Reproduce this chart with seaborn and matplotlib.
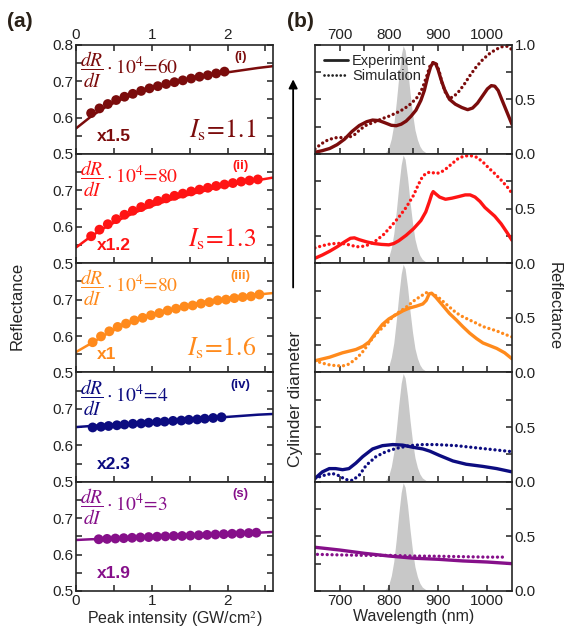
import matplotlib
matplotlib.use("Agg")
import matplotlib.pyplot as plt
from matplotlib.lines import Line2D
import seaborn as sns

# ---------------- data: panel (a) ----------------
colors = ["#7b0c0c", "#ff1414", "#ff8a1c", "#0c0c80", "#86108a"]
tags = ["(i)", "(ii)", "(iii)", "(iv)", "(s)"]
scales = ["x1.5", "x1.2", "x1", "x2.3", "x1.9"]
slopes = ["60", "80", "80", "4", "3"]
sat_int = ["1.1", "1.3", "1.6", None, None]

fit_x = [0, 0.2, 0.4, 0.6, 0.8, 1.0, 1.2, 1.4, 1.6, 1.8, 2.0, 2.2, 2.4, 2.6]
fit_i = [0.570, 0.603, 0.630, 0.650, 0.666, 0.680, 0.692, 0.702, 0.710, 0.717, 0.724, 0.730, 0.736, 0.741]
fit_ii = [0.543, 0.574, 0.600, 0.622, 0.641, 0.657, 0.671, 0.683, 0.694, 0.704, 0.713, 0.721, 0.728, 0.735]
fit_iii = [0.556, 0.580, 0.605, 0.627, 0.644, 0.658, 0.670, 0.681, 0.690, 0.698, 0.704, 0.709, 0.714, 0.718]
fit_iv = [0.650, 0.653, 0.656, 0.659, 0.662, 0.664, 0.667, 0.670, 0.672, 0.675, 0.678, 0.681, 0.684, 0.686]
fit_s = [0.640, 0.642, 0.643, 0.645, 0.647, 0.648, 0.650, 0.652, 0.653, 0.655, 0.657, 0.658, 0.660, 0.662]

dots_x_i = [0.2, 0.31, 0.42, 0.53, 0.64, 0.75, 0.86, 0.97, 1.08, 1.19, 1.3, 1.41, 1.52, 1.63, 1.74, 1.85, 1.96]
dots_i = [0.612, 0.625, 0.637, 0.648, 0.657, 0.665, 0.673, 0.680, 0.686, 0.692, 0.697, 0.702, 0.707, 0.712, 0.716, 0.721, 0.726]
dots_x_ii = [0.2, 0.31, 0.42, 0.53, 0.64, 0.75, 0.86, 0.97, 1.08, 1.19, 1.3, 1.41, 1.52, 1.63, 1.74, 1.85,
             1.96, 2.07, 2.18, 2.29, 2.4]
dots_ii = [0.574, 0.592, 0.607, 0.621, 0.633, 0.644, 0.654, 0.663, 0.671, 0.678, 0.685, 0.691, 0.697, 0.702,
           0.707, 0.712, 0.716, 0.720, 0.724, 0.727, 0.730]
dots_x_iii = [0.22, 0.33, 0.44, 0.55, 0.66, 0.77, 0.88, 0.99, 1.1, 1.21, 1.32, 1.43, 1.54, 1.65, 1.76, 1.87,
              1.98, 2.09, 2.2, 2.31, 2.42]
dots_iii = [0.583, 0.599, 0.613, 0.625, 0.634, 0.643, 0.650, 0.657, 0.663, 0.670, 0.675, 0.681, 0.684, 0.689,
            0.693, 0.698, 0.700, 0.704, 0.707, 0.709, 0.714]
dots_x_iv = [0.22, 0.33, 0.43, 0.54, 0.64, 0.75, 0.86, 0.96, 1.07, 1.17, 1.28, 1.39, 1.49, 1.6, 1.7, 1.81, 1.92]
dots_iv = [0.649, 0.651, 0.653, 0.655, 0.657, 0.659, 0.660, 0.662, 0.664, 0.665, 0.667, 0.668, 0.670, 0.671,
           0.673, 0.675, 0.677]
dots_x_s = [0.3, 0.41, 0.52, 0.63, 0.74, 0.85, 0.96, 1.07, 1.18, 1.29, 1.4, 1.51, 1.62, 1.73, 1.84, 1.95,
            2.06, 2.17, 2.28, 2.38]
dots_s = [0.642, 0.643, 0.644, 0.645, 0.646, 0.647, 0.648, 0.649, 0.650, 0.651, 0.651, 0.652, 0.653, 0.654,
          0.655, 0.656, 0.657, 0.658, 0.659, 0.660]

fits = [fit_i, fit_ii, fit_iii, fit_iv, fit_s]
dots_x = [dots_x_i, dots_x_ii, dots_x_iii, dots_x_iv, dots_x_s]
dots_y = [dots_i, dots_ii, dots_iii, dots_iv, dots_s]

# ---------------- data: panel (b) ----------------
pulse_wl = [780, 790, 795, 800, 805, 810, 815, 820, 825, 829, 833, 838, 843, 848, 853, 858, 863, 868, 875, 885]
pulse_val = [0.0, 0.005, 0.02, 0.06, 0.14, 0.27, 0.47, 0.70, 0.90, 0.99, 0.95, 0.78, 0.56, 0.37, 0.22, 0.13,
             0.07, 0.035, 0.012, 0.0]

exp1_wl = [650, 665, 680, 695, 710, 725, 740, 755, 767, 780, 792, 805, 815, 825, 835, 845, 855, 865, 872, 879,
           885, 890, 895, 900, 906, 913, 923, 935, 948, 960, 970, 980, 990, 1000, 1008, 1015, 1022, 1030, 1040, 1050]
exp1 = [0.015, 0.03, 0.05, 0.085, 0.135, 0.205, 0.26, 0.295, 0.31, 0.305, 0.285, 0.262, 0.258, 0.272, 0.30,
        0.345, 0.40, 0.49, 0.58, 0.71, 0.80, 0.835, 0.825, 0.77, 0.68, 0.59, 0.50, 0.455, 0.425, 0.405, 0.42,
        0.465, 0.53, 0.595, 0.625, 0.62, 0.58, 0.49, 0.38, 0.27]
sim1_wl = [650, 662, 675, 690, 705, 718, 730, 742, 755, 770, 785, 800, 815, 830, 845, 858, 868, 876, 883, 890,
           896, 902, 908, 915, 922, 930, 940, 952, 965, 978, 990, 1002, 1015, 1028, 1040, 1050]
sim1 = [0.045, 0.09, 0.125, 0.148, 0.150, 0.150, 0.175, 0.225, 0.265, 0.29, 0.32, 0.345, 0.375, 0.41, 0.46,
        0.52, 0.60, 0.70, 0.80, 0.84, 0.83, 0.76, 0.65, 0.56, 0.51, 0.52, 0.56, 0.63, 0.72, 0.80, 0.86, 0.91,
        0.95, 0.98, 0.985, 0.955]

exp2_wl = [650, 665, 680, 695, 710, 722, 730, 740, 755, 770, 785, 800, 810, 820, 835, 850, 865, 875, 882, 887,
           890, 895, 903, 915, 928, 942, 955, 965, 975, 985, 995, 1005, 1015, 1028, 1040, 1050]
exp2 = [0.045, 0.075, 0.11, 0.15, 0.195, 0.228, 0.232, 0.215, 0.195, 0.18, 0.172, 0.168, 0.18, 0.205, 0.255,
        0.315, 0.39, 0.47, 0.56, 0.63, 0.655, 0.635, 0.605, 0.585, 0.595, 0.61, 0.625, 0.625, 0.605, 0.565,
        0.51, 0.47, 0.43, 0.36, 0.28, 0.21]
sim2_wl = [650, 665, 680, 695, 710, 722, 735, 748, 760, 775, 790, 805, 820, 835, 850, 860, 868, 876, 885, 895,
           905, 915, 928, 940, 952, 965, 978, 990, 1003, 1015, 1028, 1040, 1050]
sim2 = [0.14, 0.16, 0.175, 0.182, 0.178, 0.165, 0.15, 0.155, 0.17, 0.21, 0.265, 0.34, 0.42, 0.51, 0.62, 0.72,
        0.79, 0.825, 0.835, 0.82, 0.83, 0.86, 0.91, 0.955, 0.98, 0.985, 0.97, 0.93, 0.87, 0.82, 0.76, 0.70, 0.64]

exp3_wl = [650, 680, 706, 733, 748, 760, 773, 787, 800, 815, 829, 842, 856, 869, 876, 882, 887, 895, 910, 923,
           937, 950, 964, 978, 991, 1005, 1019, 1035, 1050]
exp3 = [0.107, 0.14, 0.18, 0.21, 0.24, 0.28, 0.36, 0.44, 0.49, 0.53, 0.565, 0.59, 0.607, 0.627, 0.66, 0.72,
        0.725, 0.69, 0.61, 0.54, 0.48, 0.42, 0.36, 0.31, 0.27, 0.245, 0.22, 0.18, 0.125]
sim3_wl = [650, 665, 679, 692, 706, 716, 726, 737, 747, 757, 767, 777, 787, 798, 808, 818, 828, 839, 849, 862,
           876, 889, 900, 910, 924, 937, 950, 964, 978, 991, 1005, 1019, 1035, 1050]
sim3 = [0.107, 0.085, 0.07, 0.062, 0.06, 0.07, 0.10, 0.14, 0.19, 0.25, 0.315, 0.365, 0.41, 0.46, 0.51, 0.545,
        0.575, 0.61, 0.65, 0.69, 0.73, 0.72, 0.69, 0.65, 0.595, 0.545, 0.51, 0.48, 0.45, 0.42, 0.40, 0.38,
        0.35, 0.325]

exp4_wl = [650, 665, 679, 692, 706, 719, 733, 747, 767, 787, 808, 828, 849, 869, 883, 903, 930, 957, 991, 1019, 1050]
exp4 = [0.03, 0.09, 0.12, 0.12, 0.11, 0.12, 0.17, 0.23, 0.30, 0.33, 0.34, 0.335, 0.315, 0.30, 0.28, 0.24, 0.19,
        0.16, 0.14, 0.12, 0.09]
sim4_wl = [650, 665, 685, 699, 712, 726, 740, 754, 774, 794, 815, 842, 869, 896, 937, 978, 1019, 1050]
sim4 = [0.03, 0.055, 0.076, 0.055, 0.02, 0.012, 0.06, 0.15, 0.23, 0.275, 0.305, 0.33, 0.34, 0.34, 0.33, 0.31,
        0.29, 0.275]

exp5_wl = [650, 700, 750, 800, 850, 900, 950, 1000, 1050]
exp5 = [0.40, 0.375, 0.345, 0.32, 0.30, 0.29, 0.275, 0.265, 0.25]
sim5_wl = [655, 700, 750, 800, 850, 900, 950, 1000, 1035]
sim5 = [0.335, 0.33, 0.326, 0.326, 0.32, 0.318, 0.314, 0.31, 0.31]

exp_wl = [exp1_wl, exp2_wl, exp3_wl, exp4_wl, exp5_wl]
exp_val = [exp1, exp2, exp3, exp4, exp5]
sim_wl = [sim1_wl, sim2_wl, sim3_wl, sim4_wl, sim5_wl]
sim_val = [sim1, sim2, sim3, sim4, sim5]

# ---------------- figure ----------------
sns.set_style("ticks")
plt.rcParams["font.family"] = ["Liberation Sans", "DejaVu Sans"]
plt.rcParams["mathtext.fontset"] = "stix"
plt.rcParams["axes.linewidth"] = 1.2

fig = plt.figure(figsize=(5.67, 6.38), dpi=100)
gs = fig.add_gridspec(5, 2, left=0.134, right=0.903, top=0.930, bottom=0.0737, hspace=0, wspace=0.213)

dotted = (0, (0.01, 1.45))

for i in range(5):
    c = colors[i]
    # ---- left column ----
    ax = fig.add_subplot(gs[i, 0])
    sns.lineplot(x=fit_x, y=fits[i], color=c, lw=1.8, ax=ax)
    sns.scatterplot(x=dots_x[i], y=dots_y[i], color=c, s=50, edgecolor="none", ax=ax, zorder=3)
    ax.set_xlim(0, 2.6)
    ax.set_ylim(0.5, 0.8)
    ax.set_xticks([0, 1, 2])
    ax.set_xticks([0.5, 1.5, 2.5], minor=True)
    ax.set_yticks([0.5, 0.6, 0.7, 0.8])
    ax.set_yticks([0.55, 0.65, 0.75], minor=True)
    ax.set_yticklabels(["0.5", "0.6", "0.7", "0.8" if i == 0 else ""])
    ax.tick_params(which="both", direction="in", length=4.5, width=1.1, left=True, right=True,
                   top=(i == 0), bottom=True, labeltop=(i == 0), labelbottom=(i == 4),
                   labelsize=11, pad=2, colors="#222222")
    ax.set_ylabel("")
    ax.set_xlabel("")
    ax.text(0.02, 0.77, r"$\dfrac{dR}{dI}\cdot 10^4\!=\!%s$" % slopes[i], transform=ax.transAxes,
            color=c, fontsize=14, va="center", ha="left")
    ax.text(0.835, 0.885, tags[i], transform=ax.transAxes, color=c, fontsize=9.5, fontweight="bold",
            ha="center", va="center")
    ax.text(0.105, 0.16, scales[i], transform=ax.transAxes, color=c, fontsize=12.5, fontweight="bold",
            ha="left", va="center")
    if sat_int[i] is not None:
        ax.text(0.915, 0.22, r"$I_{\mathrm{s}}\!=\!%s$" % sat_int[i], transform=ax.transAxes, color=c,
                fontsize=18.5, ha="right", va="center")
    if i == 4:
        ax.set_xlabel("Peak intensity (GW/cm$^2$)", fontsize=11.5, labelpad=1)

    # ---- right column ----
    bx = fig.add_subplot(gs[i, 1])
    bx.fill_between(pulse_wl, pulse_val, color="#c8c8c8", lw=0, zorder=0)
    sns.lineplot(x=exp_wl[i], y=exp_val[i], color=c, lw=2.4, ax=bx)
    sns.lineplot(x=sim_wl[i], y=sim_val[i], color=c, lw=2.4, linestyle=dotted, dash_capstyle="round", ax=bx)
    bx.set_xlim(650, 1050)
    bx.set_ylim(0, 1.0)
    bx.set_xticks([700, 800, 900, 1000])
    bx.set_xticks([750, 850, 950], minor=True)
    bx.set_yticks([0, 0.5, 1.0])
    bx.set_yticks([0.25, 0.75], minor=True)
    bx.set_yticklabels(["0.0", "0.5", "1.0" if i == 0 else ""])
    bx.tick_params(which="both", direction="in", length=4.5, width=1.1, left=True, right=True,
                   labelleft=False, labelright=True, top=(i == 0), bottom=True,
                   labeltop=(i == 0), labelbottom=(i == 4), labelsize=11, pad=2, colors="#222222")
    bx.set_ylabel("")
    bx.set_xlabel("")
    if i == 0:
        handles = [Line2D([], [], color="#222222", lw=2),
                   Line2D([], [], color="#222222", lw=2, linestyle=dotted, dash_capstyle="round")]
        bx.legend(handles, ["Experiment", "Simulation"], loc="upper left", frameon=False, fontsize=10.5,
                  handlelength=1.6, handletextpad=0.3, labelspacing=0.05, borderaxespad=0.25)
    if i == 4:
        bx.set_xlabel("Wavelength (nm)", fontsize=11.5, labelpad=1)

fig.text(0.012, 0.966, "(a)", fontsize=15, fontweight="bold", va="center", ha="left", color="#2a2118")
fig.text(0.506, 0.966, "(b)", fontsize=15, fontweight="bold", va="center", ha="left", color="#2a2118")
fig.text(0.03, 0.52, "Reflectance", rotation=90, fontsize=12, va="center", ha="center")
fig.text(0.978, 0.52, "Reflectance", rotation=270, fontsize=12, va="center", ha="center")
fig.text(0.522, 0.375, "Cylinder diameter", rotation=90, fontsize=12.5, va="center", ha="center")
fig.add_artist(matplotlib.patches.FancyArrowPatch((0.517, 0.545), (0.517, 0.88), transform=fig.transFigure,
                                                  arrowstyle="-|>", mutation_scale=13, color="k", lw=1.3))

fig.savefig("out.png", dpi=100)
